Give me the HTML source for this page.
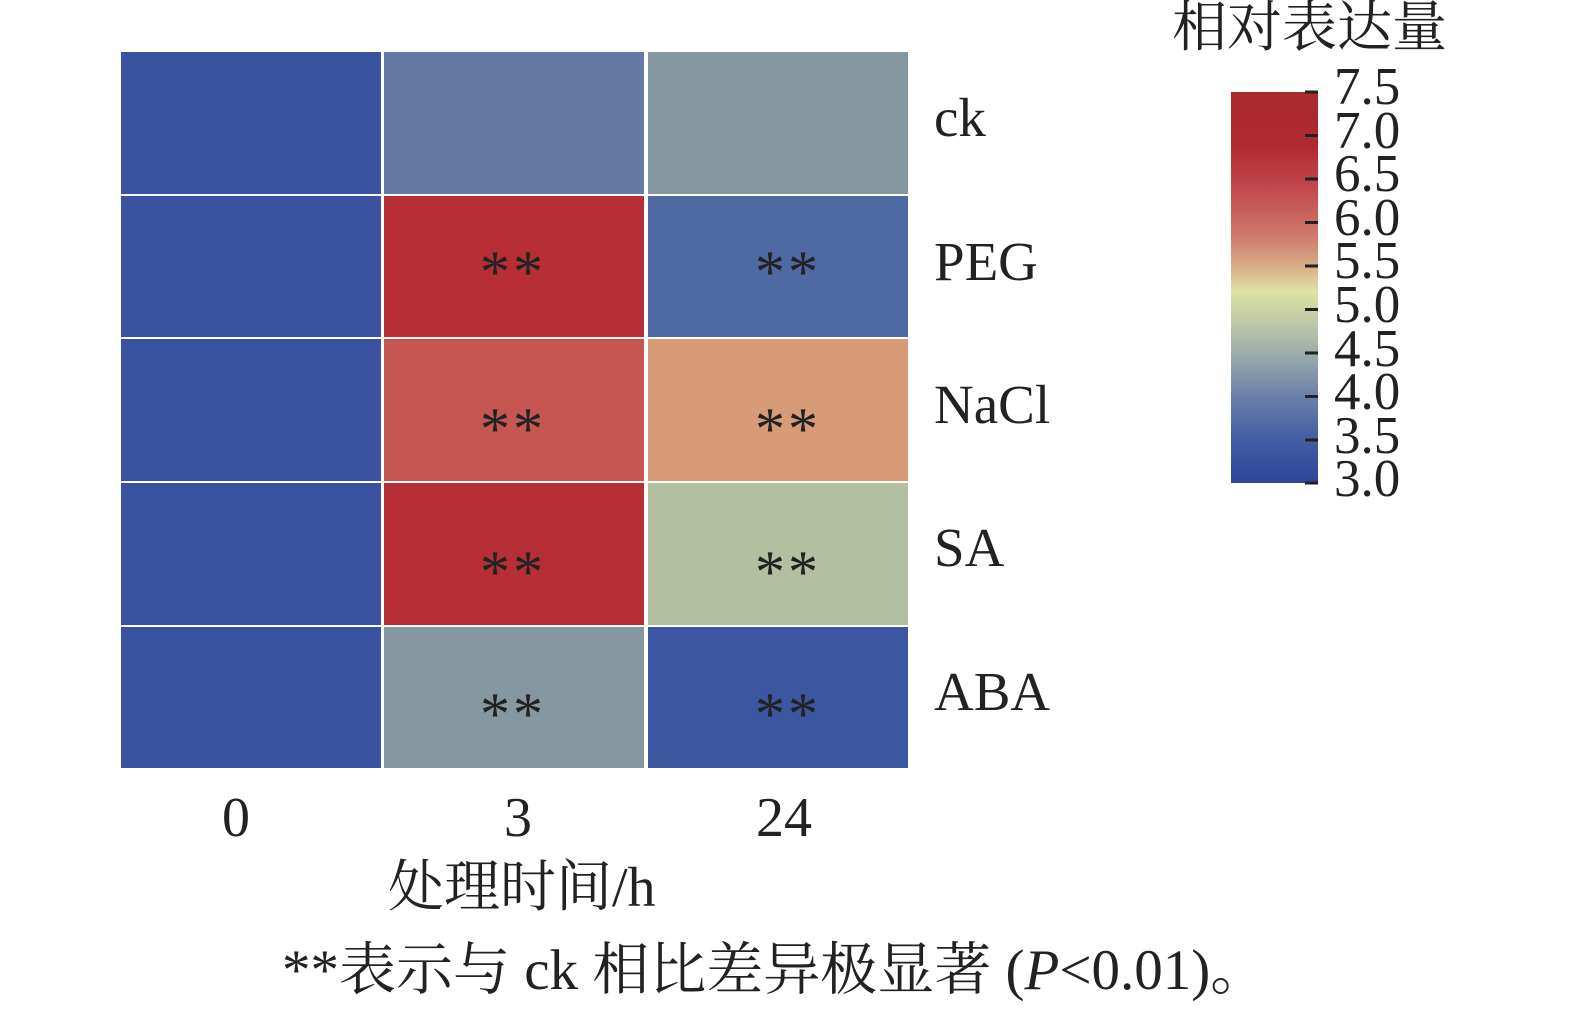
<!DOCTYPE html>
<html><head><meta charset="utf-8"><style>
body{margin:0;width:1575px;height:1012px;background:#fff;position:relative;overflow:hidden;font-family:"Liberation Serif","Noto Serif CJK SC",serif;color:#222}
.c{position:absolute}
.t{position:absolute;white-space:nowrap;line-height:1}
.s{position:absolute;font-size:60px;letter-spacing:3px;line-height:1}
</style></head><body>
<div class="c" style="left:121px;top:52px;width:260px;height:142px;background:#3a53a0"></div>
<div class="c" style="left:384px;top:52px;width:260px;height:142px;background:#647aa4"></div>
<div class="c" style="left:648px;top:52px;width:260px;height:142px;background:#8597a1"></div>
<div class="c" style="left:121px;top:196px;width:260px;height:141px;background:#3a53a0"></div>
<div class="c" style="left:384px;top:196px;width:260px;height:141px;background:#b72e36"></div>
<div class="c" style="left:648px;top:196px;width:260px;height:141px;background:#4e69a3"></div>
<div class="c" style="left:121px;top:339px;width:260px;height:142px;background:#3a53a0"></div>
<div class="c" style="left:384px;top:339px;width:260px;height:142px;background:#c55652"></div>
<div class="c" style="left:648px;top:339px;width:260px;height:142px;background:#d89b77"></div>
<div class="c" style="left:121px;top:483px;width:260px;height:142px;background:#3a53a0"></div>
<div class="c" style="left:384px;top:483px;width:260px;height:142px;background:#b72e36"></div>
<div class="c" style="left:648px;top:483px;width:260px;height:142px;background:#b2c0a1"></div>
<div class="c" style="left:121px;top:627px;width:260px;height:141px;background:#3a53a0"></div>
<div class="c" style="left:384px;top:627px;width:260px;height:141px;background:#8597a1"></div>
<div class="c" style="left:648px;top:627px;width:260px;height:141px;background:#3c56a1"></div>

<div class="s" style="left:480px;top:242px">**</div><div class="s" style="left:755px;top:242px">**</div>
<div class="s" style="left:480px;top:399px">**</div><div class="s" style="left:755px;top:399px">**</div>
<div class="s" style="left:480px;top:542px">**</div><div class="s" style="left:755px;top:542px">**</div>
<div class="s" style="left:480px;top:684px">**</div><div class="s" style="left:755px;top:684px">**</div>

<div class="t" style="left:934px;top:90px;font-size:55px">ck</div>
<div class="t" style="left:934px;top:234px;font-size:55px">PEG</div>
<div class="t" style="left:934px;top:377px;font-size:55px">NaCl</div>
<div class="t" style="left:934px;top:520px;font-size:55px">SA</div>
<div class="t" style="left:934px;top:664px;font-size:55px">ABA</div>

<div class="t" style="left:222px;top:790px;font-size:56px">0</div>
<div class="t" style="left:504px;top:790px;font-size:56px">3</div>
<div class="t" style="left:756px;top:790px;font-size:56px">24</div>
<div class="t" style="left:388px;top:860px;font-size:56px">处理时间/h</div>
<div class="t" style="left:282px;top:942px;font-size:57px">**表示与 ck 相比差异极显著 (<i>P</i>&lt;0.01)。</div>

<div class="t" style="left:1172px;top:0px;font-size:55px">相对表达量</div>
<div class="c" style="left:1231px;top:92px;width:87px;height:391px;background:linear-gradient(to bottom,#a82a2e 0%,#b02a30 14%,#c24a50 25%,#cf7a6c 37%,#d9b088 45%,#dde2a2 51%,#c2cca6 58%,#97a8aa 68%,#6a80aa 78%,#4560a4 88%,#2d459b 100%)"></div>
<svg class="c" style="left:1300px;top:85px" width="30" height="405">
<g stroke="#222" stroke-width="3">
<line x1="5" y1="7" x2="18" y2="7"/><line x1="5" y1="50.5" x2="18" y2="50.5"/><line x1="5" y1="94" x2="18" y2="94"/><line x1="5" y1="137.5" x2="18" y2="137.5"/><line x1="5" y1="181" x2="18" y2="181"/><line x1="5" y1="224.5" x2="18" y2="224.5"/><line x1="5" y1="268" x2="18" y2="268"/><line x1="5" y1="311.5" x2="18" y2="311.5"/><line x1="5" y1="355" x2="18" y2="355"/><line x1="5" y1="398" x2="18" y2="398"/>
</g></svg>
<div class="t" style="left:1334px;top:66px;font-size:53px;line-height:43.6px">7.5<br>7.0<br>6.5<br>6.0<br>5.5<br>5.0<br>4.5<br>4.0<br>3.5<br>3.0</div>
</body></html>
